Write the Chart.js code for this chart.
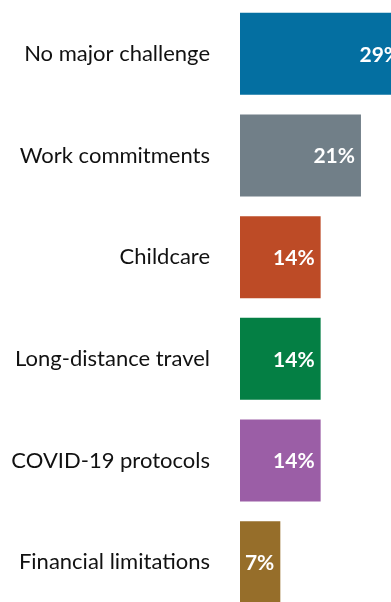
<!DOCTYPE html>
<html>
<head>
<meta charset="utf-8">
<script src="https://cdn.jsdelivr.net/npm/chart.js@4"></script>
<style>
  html, body { margin: 0; padding: 0; background: #fff; }
  #wrap { width: 391px; height: 602px; overflow: hidden; position: relative; }
  #challengesChart { position: absolute; left: 0; top: 0; }
</style>
</head>
<body>
<div id="wrap"><canvas id="challengesChart" width="420" height="613"></canvas></div>
<script>
const categories = ['No major challenge', 'Work commitments', 'Childcare', 'Long-distance travel', 'COVID-19 protocols', 'Financial limitations'];
const shares = [29, 21, 14, 14, 14, 7];
const barColors = ['#046fa1', '#717f88', '#bd4b26', '#047f44', '#9b5ea6', '#966e2a'];

// white % labels inside the end of each bar
const valueLabels = {
  id: 'valueLabels',
  afterDatasetsDraw(chart) {
    const ctx = chart.ctx;
    const meta = chart.getDatasetMeta(0);
    ctx.save();
    ctx.fillStyle = '#ffffff';
    ctx.font = 'bold 21px Lato, sans-serif';
    ctx.textAlign = 'right';
    ctx.textBaseline = 'middle';
    meta.data.forEach((bar, i) => {
      ctx.fillText(shares[i] + '%', bar.x - 6, bar.y + 1);
    });
    ctx.restore();
  }
};

const ctx = document.getElementById('challengesChart').getContext('2d');
new Chart(ctx, {
  type: 'bar',
  data: {
    labels: categories,
    datasets: [{
      data: shares,
      backgroundColor: barColors,
      categoryPercentage: 1,
      barPercentage: 0.807
    }]
  },
  options: {
    indexAxis: 'y',
    responsive: false,
    animation: false,
    layout: { padding: { top: 3, right: 0, bottom: 0, left: 0 } },
    plugins: { legend: { display: false }, tooltip: { enabled: false } },
    scales: {
      x: {
        min: 0, max: 31.25,
        display: false
      },
      y: {
        grid: { display: false },
        border: { display: false },
        afterFit(axis) {
          axis.width = 240;
          axis.paddingTop = 0;
          axis.paddingBottom = 0;
        },
        ticks: {
          color: '#111111',
          padding: 22,
          font: { family: 'Lato, sans-serif', size: 22 }
        }
      }
    }
  },
  plugins: [valueLabels]
});
</script>
</body>
</html>
